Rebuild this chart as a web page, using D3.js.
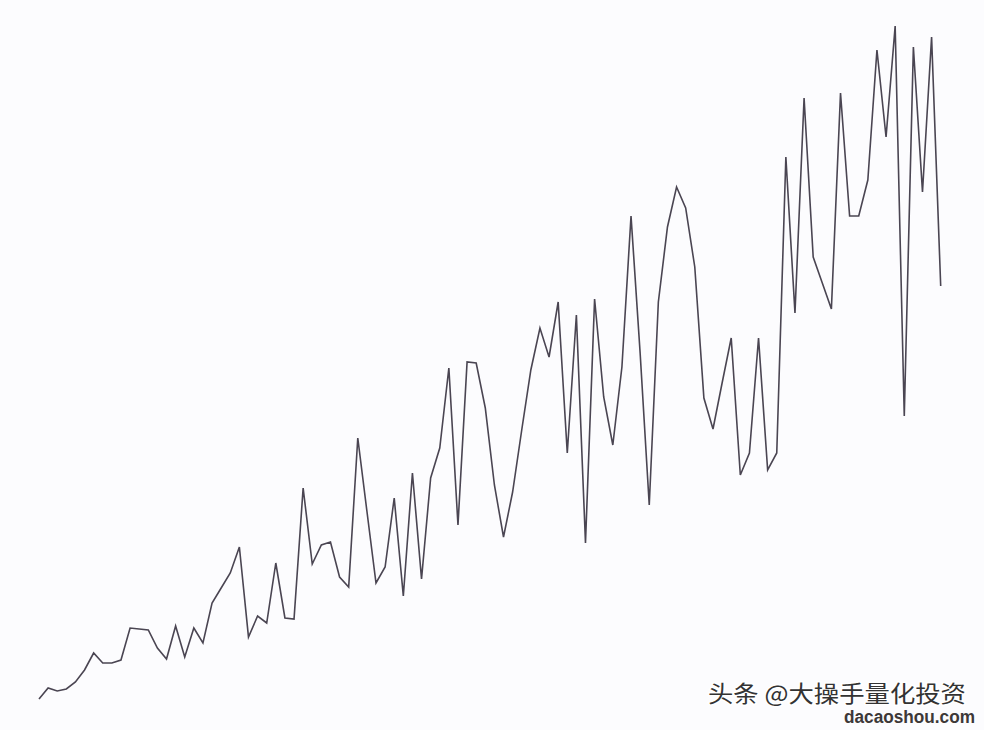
<!DOCTYPE html>
<html>
<head>
<meta charset="utf-8">
<script src="https://cdn.jsdelivr.net/npm/d3@7"></script>
<style>
  html, body { margin: 0; padding: 0; background: #fcfcfe; }
  svg { display: block; }
</style>
</head>
<body>
<svg id="chart" width="984" height="730"></svg>
<script>
// Data (arbitrary units, one value per step)
const steps = d3.range(100);
const values = [
  1, 12, 9, 11, 18, 30, 47, 37, 37, 40,
  72, 71, 70, 52, 41, 74, 43, 72, 57, 97,
  112, 127, 153, 63, 84, 77, 137, 82, 81, 212,
  136, 155, 158, 123, 113, 262, 189, 117, 133, 202,
  104, 227, 121, 222, 252, 332, 175, 338, 337, 292,
  215, 163, 208, 270, 330, 372, 343, 398, 247, 385,
  157, 401, 303, 255, 333, 484, 347, 195, 398, 473,
  513, 492, 433, 302, 271, 317, 362, 225, 247, 362,
  230, 247, 543, 387, 602, 443, 417, 391, 607, 484,
  484, 520, 650, 563, 674, 284, 653, 508, 663, 414
];
const watermarkLine1 = "头条 @大操手量化投资";
const watermarkLine2 = "dacaoshou.com";

const svg = d3.select("#chart");
const x = d3.scaleLinear().domain([0, 99]).range([39, 940.7]);
const y = d3.scaleLinear().domain([0, 700]).range([700, 0]);

const data = steps.map((s, i) => ({ s, v: values[i] }));

svg.append("path")
  .datum(data)
  .attr("fill", "none")
  .attr("stroke", "#4a4552")
  .attr("stroke-width", 1.6)
  .attr("stroke-linejoin", "miter")
  .attr("d", d3.line().x(d => x(d.s)).y(d => y(d.v)));

svg.append("text")
  .attr("x", 708).attr("y", 702)
  .attr("font-family", "Noto Sans CJK SC, sans-serif")
  .attr("font-size", 23)
  .attr("textLength", 258)
  .attr("lengthAdjust", "spacingAndGlyphs")
  .attr("fill", "#333333")
  .attr("stroke", "#ffffff").attr("stroke-width", 3)
  .attr("paint-order", "stroke")
  .text(watermarkLine1);

svg.append("text")
  .attr("x", 844).attr("y", 723)
  .attr("font-family", "Liberation Sans, Arial, sans-serif")
  .attr("font-size", 18)
  .attr("font-weight", "bold")
  .attr("textLength", 131)
  .attr("lengthAdjust", "spacingAndGlyphs")
  .attr("fill", "#3d3838")
  .text(watermarkLine2);
</script>
</body>
</html>
